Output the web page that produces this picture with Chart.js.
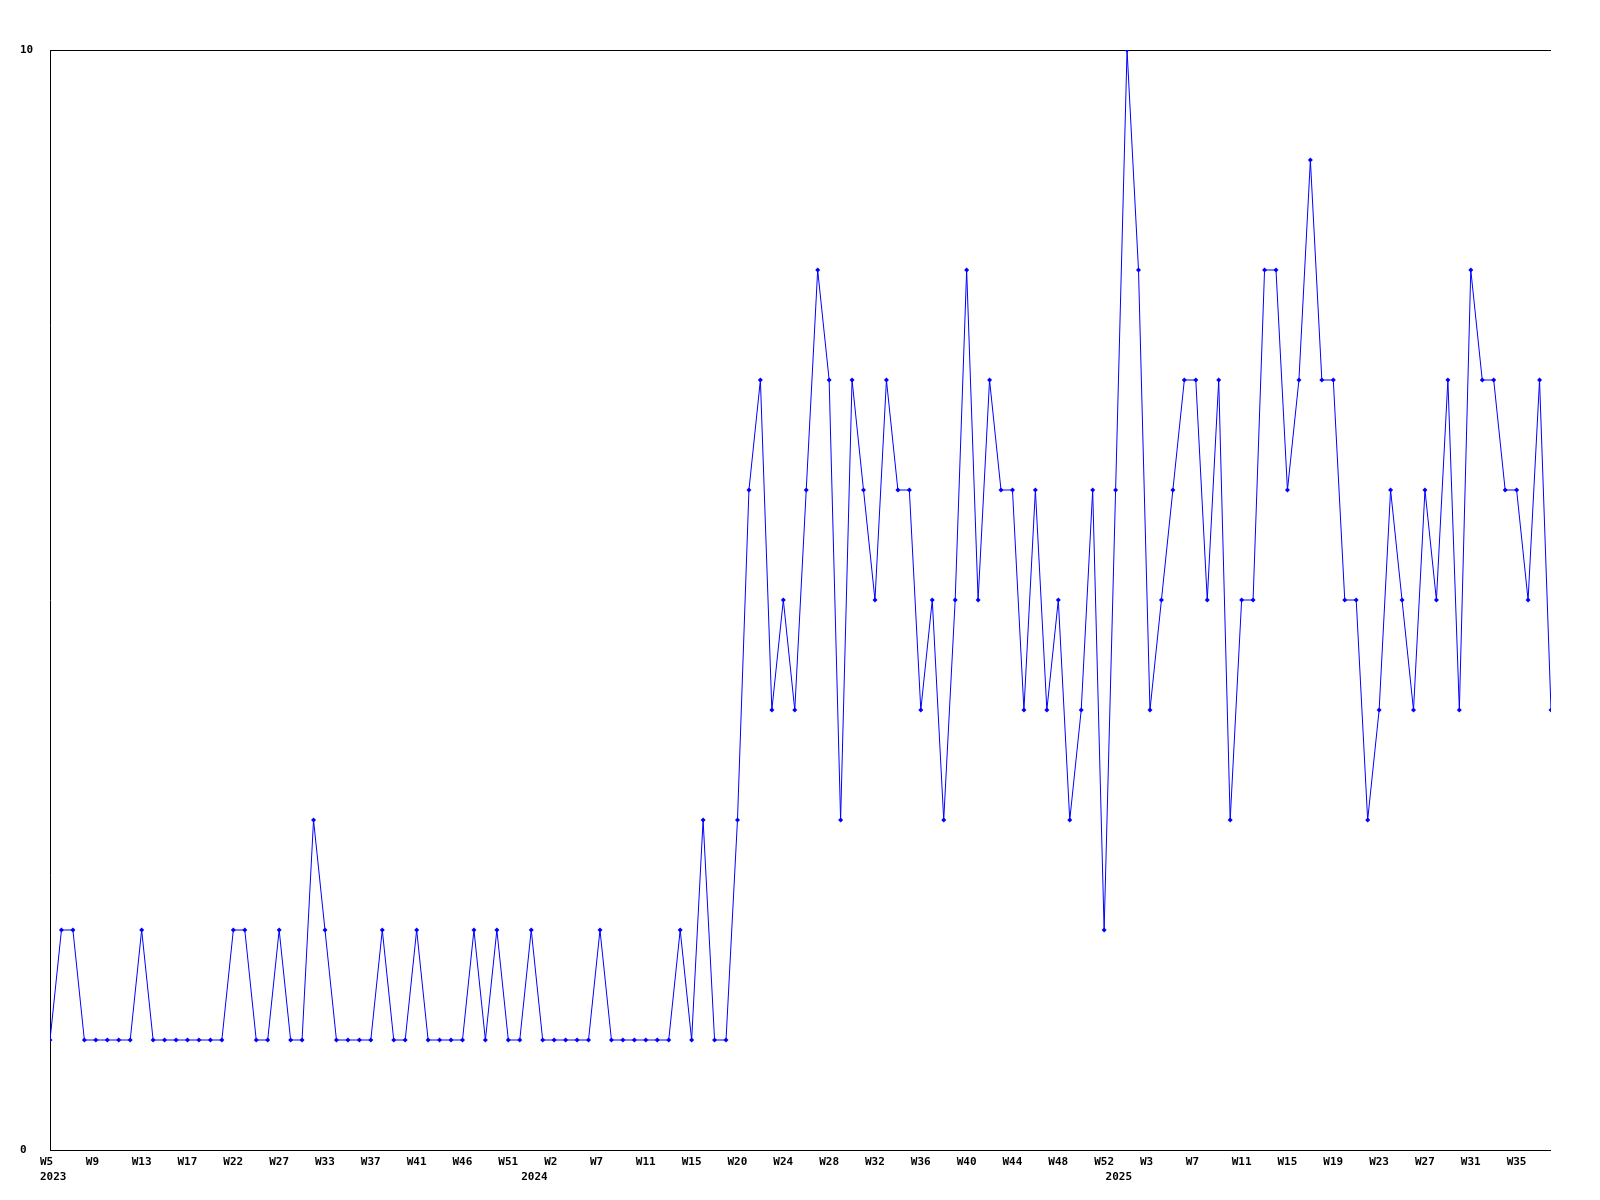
<!DOCTYPE html>
<html>
<head>
<meta charset="utf-8">
<script src="https://cdn.jsdelivr.net/npm/chart.js@4/dist/chart.umd.min.js"></script>
<style>
  body { margin: 0; background: #fff; }
  canvas { display: block; }
</style>
</head>
<body>
<canvas id="week_chart" width="1600" height="1200"></canvas>
<script>
// one value per week row
const values = [
  1,2,2,1,1,1,1,1,2,1,1,1,1,1,1,1,2,2,1,1,2,1,
  1,3,2,1,1,1,1,2,1,1,2,1,1,1,1,2,1,2,1,1,2,1,
  1,1,1,1,2,1,1,1,1,1,1,2,1,3,1,1,3,6,7,4,5,4,
  6,8,7,3,7,6,5,7,6,6,4,5,3,5,8,5,7,6,6,4,6,4,
  5,3,4,6,2,6,10,8,4,5,6,7,7,5,7,3,5,5,8,8,6,7,
  9,7,7,5,5,3,4,6,5,4,6,5,7,4,8,7,7,6,6,5,7,4
];

// a week label is shown on every 4th point
const weekTicks = ["W5","W9","W13","W17","W22","W27","W33","W37","W41","W46","W51",
  "W2","W7","W11","W15","W20","W24","W28","W32","W36","W40","W44","W48","W52",
  "W3","W7","W11","W15","W19","W23","W27","W31","W35"];

// year row under the weeks, at the first point of each year
const yearTicks = ["2023", "2024", "2025"];
const yearStart = [0, 42, 93];

const yTicks = [0, 10];

const points = values.map((v, i) => ({ x: i, y: v }));

function xTickLines(i){
  let week = "";
  if(i % 4 === 0 && weekTicks[i / 4] !== undefined)
    week = weekTicks[i / 4];
  const yi = yearStart.indexOf(i);
  const year = yi >= 0 ? yearTicks[yi] : "";
  return year ? [week, year] : week;
}

const font = { family: "'DejaVu Sans Mono', monospace", size: 11, weight: "bold", lineHeight: "15px" };

new Chart(document.getElementById("week_chart"), {
  type: "line",
  data: {
    datasets: [{
      data: points,
      borderColor: "rgb(0,0,255)",
      backgroundColor: "rgb(0,0,255)",
      borderWidth: 1,
      pointStyle: "rectRot",
      pointRadius: 2.5,
      pointBorderWidth: 0,
      tension: 0,
      fill: false
    }]
  },
  options: {
    responsive: false,
    animation: false,
    layout: { padding: { top: 50, left: 20, right: 49, bottom: 0 } },
    plugins: { legend: { display: false }, tooltip: { enabled: false } },
    scales: {
      x: {
        type: "linear",
        min: 0,
        max: values.length - 1,
        grid: { display: false, drawTicks: false },
        border: { display: false },
        afterBuildTicks: (axis) => {
          const idx = [];
          for(let i = 0; i < values.length; i++){
            if(i % 4 === 0 || yearStart.includes(i)) idx.push(i);
          }
          axis.ticks = idx.map(v => ({ value: v }));
        },
        afterFit: (axis) => { axis.height = 50; },
        ticks: {
          autoSkip: false,
          maxRotation: 0,
          align: "start",
          labelOffset: -10,
          padding: 5,
          color: "#000",
          font: font,
          callback: (v) => xTickLines(v)
        }
      },
      y: {
        min: 0,
        max: 10,
        afterBuildTicks: (axis) => { axis.ticks = yTicks.map(v => ({ value: v })); },
        afterFit: (axis) => { axis.width = 30; },
        grid: { color: "#000", lineWidth: 1, drawTicks: false },
        border: { color: "#000", width: 1 },
        ticks: {
          crossAlign: "far",
          padding: 0,
          color: "#000",
          font: font
        }
      }
    }
  }
});
</script>
</body>
</html>
